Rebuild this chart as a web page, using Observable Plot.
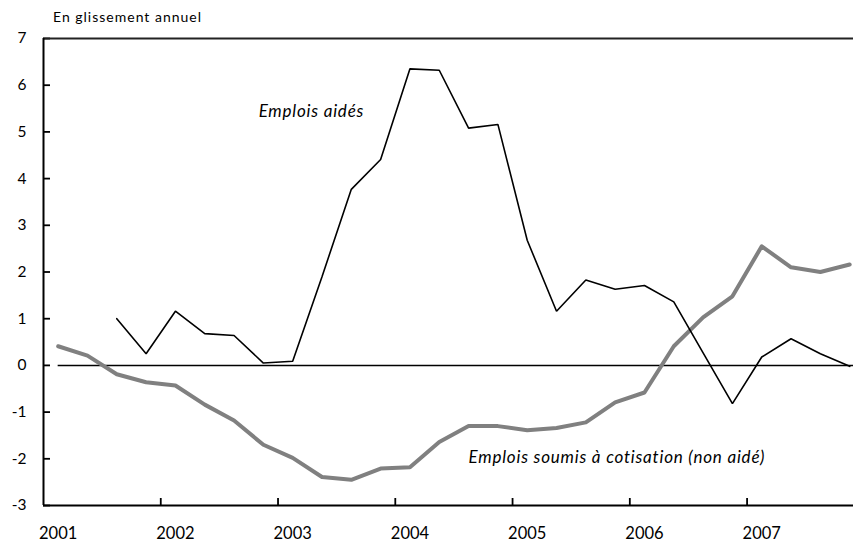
<!DOCTYPE html>
<html>
<head>
<meta charset="utf-8">
<script src="https://cdn.jsdelivr.net/npm/d3@7"></script>
<script src="https://cdn.jsdelivr.net/npm/@observablehq/plot@0.6"></script>
<style>
  body { margin: 0; background: #fff; font-family: Lato, "Noto Sans", sans-serif; }
  #title { height: 28px; font-size: 14px; letter-spacing: 1px; padding-left: 53px; line-height: 34px; color: #000; }
</style>
</head>
<body>
<div id="title">En glissement annuel</div>
<div id="chart"></div>
<script>
const years = [2001, 2002, 2003, 2004, 2005, 2006, 2007];
const quarterIndex = d3.range(28); // 2001 T1 ... 2007 T4
const emploisAides = [null, null, 1.0, 0.25, 1.16, 0.68, 0.64, 0.05, 0.09, 1.9, 3.77, 4.41, 6.35, 6.32, 5.08, 5.16, 2.68, 1.16, 1.83, 1.63, 1.71, 1.36, 0.27, -0.82, 0.18, 0.57, 0.25, -0.02];
const emploisNonAides = [0.41, 0.21, -0.19, -0.36, -0.43, -0.84, -1.18, -1.70, -1.98, -2.39, -2.45, -2.21, -2.18, -1.64, -1.30, -1.30, -1.39, -1.34, -1.22, -0.79, -0.58, 0.41, 1.03, 1.48, 2.55, 2.10, 2.00, 2.16];
const yTicks = [-3, -2, -1, 0, 1, 2, 3, 4, 5, 6, 7];
const yearLabelIdx = years.map((y, i) => i * 4);
const yearBoundaries = [3.5, 7.5, 11.5, 15.5, 19.5, 23.5];
const labels = [
  {text: "Emplois aidés", i: 6.84, v: 5.44},
  {text: "Emplois soumis à cotisation (non aidé)", i: 14.0, v: -1.97}
];

const aidesData = quarterIndex.map(i => ({i, v: emploisAides[i]})).filter(d => d.v != null);
const nonAidesData = quarterIndex.map(i => ({i, v: emploisNonAides[i]}));

const W = 853, H = 516, mL = 43, mR = 0, mT = 10, mB = 39;
const plotW = W - mL - mR, plotH = H - mT - mB;

const chart = Plot.plot({
  width: W, height: H,
  marginLeft: mL, marginRight: mR, marginTop: mT, marginBottom: mB,
  style: {fontFamily: "Lato, 'Noto Sans', sans-serif", color: "#000", background: "#fff", overflow: "visible"},
  x: {domain: [-0.5, 27.13], label: null},
  y: {domain: [-3, 7], label: null},
  marks: [
    Plot.axisY({ticks: yTicks, tickSize: 0, tickPadding: 17, fontSize: 15.5, tickFormat: d => String(d), label: null}),
    Plot.axisX({ticks: yearLabelIdx, tickSize: 0, tickPadding: 22, fontSize: 16.5, tickFormat: i => String(years[i / 4]), label: null}),
    // y ticks pointing inward
    Plot.ruleY(yTicks, {stroke: "#000", strokeWidth: 1.8, insetRight: plotW - 7}),
    // x ticks at year boundaries pointing inward
    Plot.ruleX(yearBoundaries, {stroke: "#000", strokeWidth: 1.8, insetTop: plotH - 7}),
    // frame lines
    Plot.ruleY([7], {stroke: "#222", strokeWidth: 1.8}),
    Plot.ruleY([-3], {stroke: "#000", strokeWidth: 2}),
    Plot.ruleX([-0.5], {stroke: "#000", strokeWidth: 2}),
    // zero line
    Plot.ruleY([0], {x1: 0, x2: 27.13, stroke: "#000", strokeWidth: 1.5}),
    Plot.line(nonAidesData, {x: "i", y: "v", stroke: "#808080", strokeWidth: 4, strokeLinejoin: "round"}),
    Plot.line(aidesData, {x: "i", y: "v", stroke: "#000", strokeWidth: 1.6, strokeLinejoin: "miter"}),
    Plot.text(labels, {x: "i", y: "v", text: "text", textAnchor: "start", fontStyle: "italic", fontSize: 17, fill: "#000", style: "letter-spacing: 0.8px"})
  ]
});
chart.querySelectorAll("text").forEach(t => {
  if (t.textContent.startsWith("Emplois")) t.style.letterSpacing = "0.8px";
});
document.getElementById("chart").appendChild(chart);
</script>
</body>
</html>
